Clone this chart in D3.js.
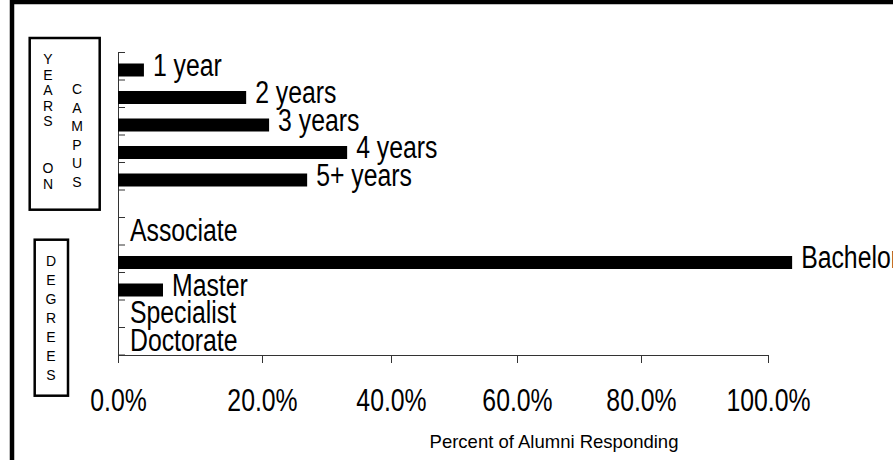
<!DOCTYPE html>
<html>
<head>
<meta charset="utf-8">
<script src="https://cdn.jsdelivr.net/npm/d3@7"></script>
<style>
  body { margin: 0; background: #fff; }
  svg { display: block; font-family: "Liberation Sans", Arial, sans-serif; }
</style>
</head>
<body>
<div id="chart"></div>
<script>
// categories, top to bottom (blank row between the two groups)
const yearCats = ["1 year", "2 years", "3 years", "4 years", "5+ years"]
const degreeCats = ["Associate", "Bachelor", "Master", "Specialist", "Doctorate"]
const yearValues = [0.036, 0.178, 0.211, 0.332, 0.270]
const degreeValues = [0, 1.038, 0.0625, 0, 0]
const xTicks = [0, 0.2, 0.4, 0.6, 0.8, 1.0]
const yearsLeft = ["Y", "E", "A", "R", "S", "", "", "O", "N"]
const yearsRight = ["C", "A", "M", "P", "U", "S"]
const degreesWord = ["D", "E", "G", "R", "E", "E", "S"]

const width = 893, height = 460

const svg = d3.select("#chart").append("svg")
    .attr("width", width)
    .attr("height", height)

// outer frame (right and bottom edges fall outside the picture)
svg.append("rect")
    .attr("x", 12).attr("y", 2)
    .attr("width", 920).attr("height", 500)
    .attr("fill", "none")
    .attr("stroke", "#000")
    .attr("stroke-width", 4.5)

let rows = yearCats.map((c, i) => ({cat: c, value: yearValues[i]}))
rows.push({cat: "_gap", value: null})
degreeCats.forEach((c, i) => rows.push({cat: c, value: degreeValues[i]}))

// x scale follows the tick spacing of the original axis
const x = d3.scaleLinear()
    .domain(xTicks)
    .range([118, 262, 391, 517, 641, 768])

const y = d3.scaleBand()
    .domain(rows.map(d => d.cat))
    .range([52, 354.5])
    .paddingInner(0).paddingOuter(0)

// edges of the category bands for the y-axis ticks
const yEdge = d3.scaleLinear().domain([0, rows.length]).range(y.range())

const yAxis = d3.axisLeft(yEdge)
    .tickValues(d3.range(rows.length + 1))
    .tickFormat("")
    .tickSizeInner(-7)
    .tickSizeOuter(0)

svg.append("g")
    .attr("class", "y-axis")
    .attr("transform", "translate(118,0)")
    .call(yAxis)

const xAxis = d3.axisBottom(x)
    .tickValues(xTicks)
    .tickFormat(d3.format(".1%"))
    .tickSizeInner(8)
    .tickSizeOuter(0)

const gx = svg.append("g")
    .attr("class", "x-axis")
    .attr("transform", "translate(0,355)")
    .call(xAxis)

gx.selectAll("text")
    .attr("y", 0).attr("dy", 0)
    .attr("font-size", 31)
    .attr("fill", "#000")
    .attr("font-family", "Liberation Sans, Arial, sans-serif")
    .attr("transform", "translate(0,56) scale(0.8,1)")

svg.selectAll(".x-axis path, .x-axis line, .y-axis path, .y-axis line")
    .attr("stroke", "#333")

// bars
const data = rows.filter(d => d.value !== null)

svg.selectAll(".bar")
    .data(data)
    .enter()
    .append("rect")
    .attr("class", "bar")
    .attr("x", x(0))
    .attr("y", d => y(d.cat) + 11.5)
    .attr("width", d => x(d.value) - x(0))
    .attr("height", 13)
    .attr("fill", "#000")

// bar labels
svg.selectAll(".label")
    .data(data)
    .enter()
    .append("text")
    .attr("class", "label")
    .attr("transform", d => `translate(${x(d.value) + (d.value > 0 ? 9 : 12)},${y(d.cat) + 23.5}) scale(0.8,1)`)
    .attr("font-size", 31)
    .attr("fill", "#000")
    .text(d => d.cat)

// axis title
svg.append("text")
    .attr("x", 554).attr("y", 448)
    .attr("text-anchor", "middle")
    .attr("font-size", 18.5)
    .text("Percent of Alumni Responding")

// group boxes
svg.append("rect")
    .attr("x", 29.7).attr("y", 38)
    .attr("width", 70).attr("height", 171.7)
    .attr("fill", "none").attr("stroke", "#000").attr("stroke-width", 2.5)

svg.append("rect")
    .attr("x", 34.7).attr("y", 239.7)
    .attr("width", 33.3).attr("height", 156)
    .attr("fill", "none").attr("stroke", "#000").attr("stroke-width", 2.5)

function stack(letters, cx, firstBase, pitch) {
    svg.append("g").selectAll("text")
        .data(letters)
        .enter()
        .append("text")
        .attr("x", cx)
        .attr("y", (d, i) => firstBase + i * pitch)
        .attr("text-anchor", "middle")
        .attr("font-size", 14)
        .attr("fill", "#000")
        .text(d => d)
}

stack(yearsLeft, 48, 64, 15.6)
stack(yearsRight, 77, 94, 18.6)
stack(degreesWord, 51, 266, 19.0)
</script>
</body>
</html>
